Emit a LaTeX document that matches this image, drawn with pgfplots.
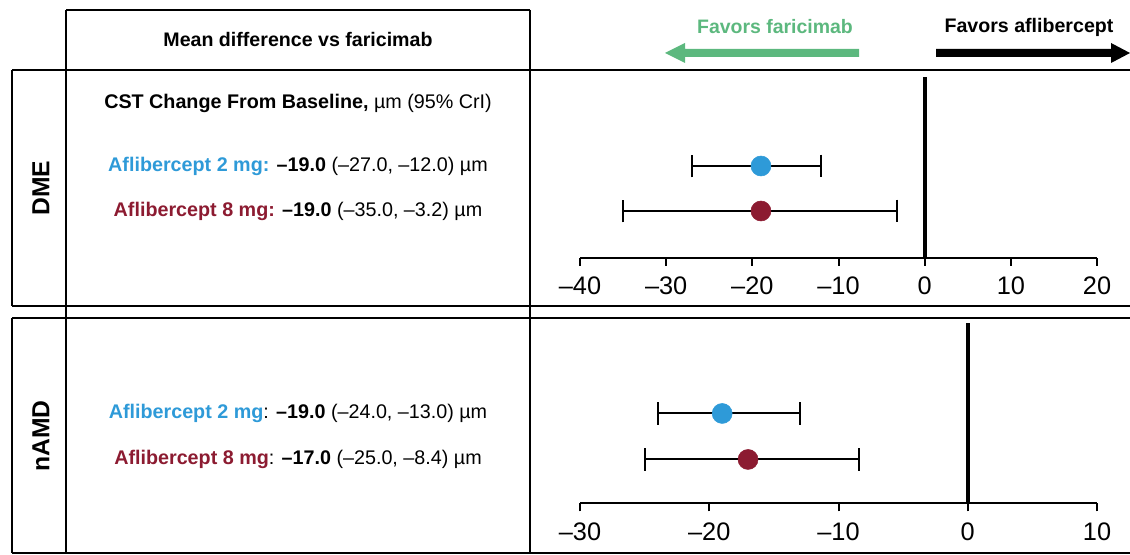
\documentclass[border=0pt]{standalone}
\usepackage{pgfplots}
\pgfplotsset{compat=1.18}
\usepackage{fontspec}
\setmainfont{Liberation Sans}
\definecolor{c2}{HTML}{2E9AD8}
\definecolor{c8}{HTML}{8C1B31}
\definecolor{fgreen}{HTML}{5CB87E}
\pgfplotsset{
  fp/.style={
    scale only axis, anchor=south west,
    width=387.75pt,
    axis x line*=bottom, axis y line=none,
    ymin=0, ymax=181,
    tick align=outside, major tick length=6pt,
    axis line style={line width=1.5pt, black},
    every tick/.style={line width=1.5pt, black},
    ytick=\empty,
    xticklabel style={font=\fontsize{19}{21}\selectfont, inner sep=1pt, yshift=-7pt},
    clip=false,
  },
  ebar/.style={only marks, mark=*, mark size=7.5pt,
    error bars/.cd, x dir=both, x explicit,
    error bar style={black, line width=1.5pt},
    error mark options={black, line width=1.5pt, mark size=8.5pt, rotate=90},
    /pgfplots/.cd},
}
\begin{document}
\begin{tikzpicture}
\begin{scope}[x=0.75pt,y=-0.75pt]
\useasboundingbox (0,0) rectangle (1130,555);
\begin{scope}[line width=1.5pt]
\draw (66,10) -- (530,10);
\draw (66,10) -- (66,553);
\draw (530,10) -- (530,553);
\draw (12,70) -- (1131,70);
\draw (12,306) -- (1131,306);
\draw (12,318) -- (1131,318);
\draw (12,553) -- (1131,553);
\draw (12,70) -- (12,306);
\draw (12,318) -- (12,553);
\end{scope}
\node[font=\bfseries\fontsize{14.7}{16}\selectfont] at (298,40) {Mean difference vs faricimab};
\node[rotate=90, font=\bfseries\fontsize{18.5}{20}\selectfont] at (41,188) {DME};
\node[rotate=90, font=\bfseries\fontsize{18.5}{20}\selectfont] at (41,436) {nAMD};
\begin{scope}[every node/.style={font=\fontsize{14.8}{16}\selectfont}]
\node at (298,103) {\textbf{CST Change From Baseline,} µm (95\% CrI)};
\node at (298,166) {\textcolor{c2}{\textbf{Aflibercept 2 mg:}} \textbf{–19.0} (–27.0, –12.0) µm};
\node at (298,211) {\textcolor{c8}{\textbf{Aflibercept 8 mg:}} \textbf{–19.0} (–35.0, –3.2) µm};
\node at (298,413) {\textcolor{c2}{\textbf{Aflibercept 2 mg}}: \textbf{–19.0} (–24.0, –13.0) µm};
\node at (298,459) {\textcolor{c8}{\textbf{Aflibercept 8 mg}}: \textbf{–17.0} (–25.0, –8.4) µm};
\end{scope}
\fill[fgreen] (859,49) -- (685,49) -- (685,43) -- (665,53) -- (685,63) -- (685,57) -- (859,57) -- cycle;
\fill[black] (936,49) -- (1111,49) -- (1111,43) -- (1130,53) -- (1111,63) -- (1111,57) -- (936,57) -- cycle;
\node[text=fgreen, font=\bfseries\fontsize{14.6}{16}\selectfont] at (775,27) {Favors faricimab};
\node[font=\bfseries\fontsize{14.7}{16}\selectfont] at (1029,27) {Favors aflibercept};
\end{scope}

\begin{axis}[fp, at={(435pt,-193.5pt)}, height=135.75pt,
  xmin=-40, xmax=20, xtick={-40,-30,...,20},
  xticklabels={–40,–30,–20,–10,0,10,20}]
\addplot[line width=3pt, black] coordinates {(0,0) (0,181)};
\addplot[color=c2, ebar] coordinates {(-19,92) -= (8,0) += (7,0)};
\addplot[color=c8, ebar] coordinates {(-19,47) -= (16,0) += (15.8,0)};
\end{axis}

\begin{axis}[fp, at={(435pt,-377.6pt)}, height=135.75pt,
  xmin=-30, xmax=10, xtick={-30,-20,...,10},
  xticklabels={–30,–20,–10,0,10}]
\addplot[line width=3pt, black] coordinates {(0,0) (0,180)};
\addplot[color=c2, ebar] coordinates {(-19,90) -= (5,0) += (6,0)};
\addplot[color=c8, ebar] coordinates {(-17,44) -= (8,0) += (8.6,0)};
\end{axis}
\end{tikzpicture}
\end{document}
